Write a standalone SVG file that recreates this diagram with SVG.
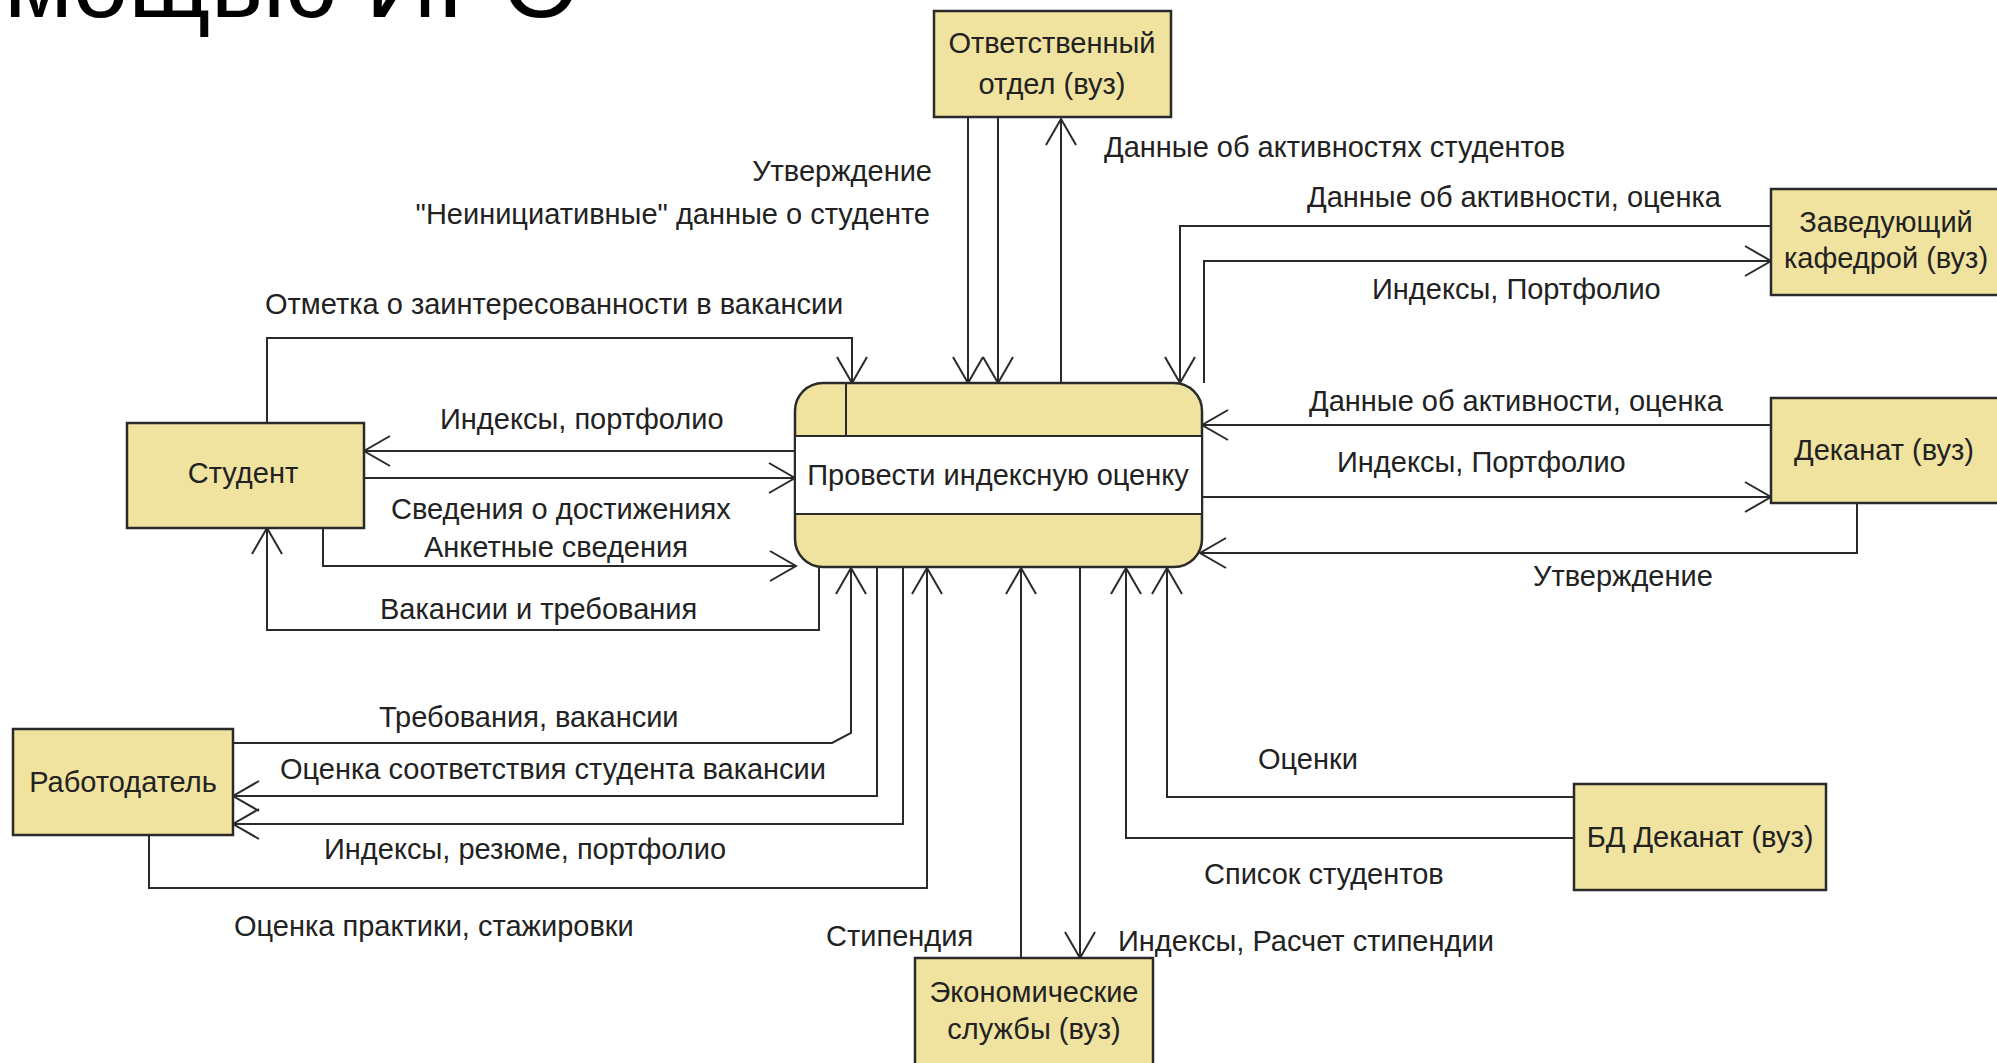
<svg xmlns="http://www.w3.org/2000/svg" width="1997" height="1063" viewBox="0 0 1997 1063">
<style>
.bg{fill:#ffffff}
.box{fill:#f0e3a0;stroke:#2a2a2a;stroke-width:2.5}
.band{fill:#ffffff;stroke:#2a2a2a;stroke-width:2}
.ln{fill:none;stroke:#2a2a2a;stroke-width:2}
.t{font-family:"Liberation Sans",Arial,sans-serif;font-size:29px;fill:#222}
.m{text-anchor:middle}
.e{text-anchor:end}
.title{font-family:"Liberation Sans",Arial,sans-serif;font-size:100px;fill:#000}
</style>
<defs>
<marker id="ar" markerUnits="userSpaceOnUse" markerWidth="30" markerHeight="34" viewBox="0 0 30 34" refX="27" refY="16" orient="auto">
<path d="M1,1 L27,16 L1,31" fill="none" stroke="#2a2a2a" stroke-width="2"/>
</marker>
</defs>
<rect class="bg" x="0" y="0" width="1997" height="1063"/>
<text class="title" x="4" y="17">мощью ИРО</text>

<g id="connectors">
<path class="ln" d="M968,117 V383" marker-end="url(#ar)"/>
<path class="ln" d="M998,117 V383" marker-end="url(#ar)"/>
<path class="ln" d="M1061,383 V119" marker-end="url(#ar)"/>
<path class="ln" d="M1771,226 H1180 V383" marker-end="url(#ar)"/>
<path class="ln" d="M1204,383 V261 H1771" marker-end="url(#ar)"/>
<path class="ln" d="M1771,425 H1202" marker-end="url(#ar)"/>
<path class="ln" d="M1202,497 H1771" marker-end="url(#ar)"/>
<path class="ln" d="M1857,503 V553 H1200" marker-end="url(#ar)"/>
<path class="ln" d="M267,423 V338 H852 V383" marker-end="url(#ar)"/>
<path class="ln" d="M795,451 H364" marker-end="url(#ar)"/>
<path class="ln" d="M364,478 H795" marker-end="url(#ar)"/>
<path class="ln" d="M323,528 V566 H796" marker-end="url(#ar)"/>
<path class="ln" d="M819,568 V630 H267 V528" marker-end="url(#ar)"/>
<path class="ln" d="M233,743 H832 L851,733 V568" marker-end="url(#ar)"/>
<path class="ln" d="M877,568 V796 H233" marker-end="url(#ar)"/>
<path class="ln" d="M903,568 V824 H233" marker-end="url(#ar)"/>
<path class="ln" d="M149,835 V888 H927 V568" marker-end="url(#ar)"/>
<path class="ln" d="M1021,958 V568" marker-end="url(#ar)"/>
<path class="ln" d="M1080,568 V958" marker-end="url(#ar)"/>
<path class="ln" d="M1574,838 H1126 V568" marker-end="url(#ar)"/>
<path class="ln" d="M1574,797 H1167 V568" marker-end="url(#ar)"/>
</g>

<g id="labels">
<text class="t e" x="932" y="181">Утверждение</text>
<text class="t e" x="930" y="224">"Неинициативные" данные о студенте</text>
<text class="t" x="1104" y="157">Данные об активностях студентов</text>
<text class="t" x="1307" y="207">Данные об активности, оценка</text>
<text class="t" x="1372" y="299">Индексы, Портфолио</text>
<text class="t" x="265" y="314">Отметка о заинтересованности в вакансии</text>
<text class="t" x="440" y="429">Индексы, портфолио</text>
<text class="t" x="1309" y="411">Данные об активности, оценка</text>
<text class="t" x="1337" y="472">Индексы, Портфолио</text>
<text class="t" x="391" y="519">Сведения о достижениях</text>
<text class="t" x="424" y="557">Анкетные сведения</text>
<text class="t" x="1533" y="586">Утверждение</text>
<text class="t" x="380" y="619">Вакансии и требования</text>
<text class="t" x="379" y="727">Требования, вакансии</text>
<text class="t" x="280" y="779">Оценка соответствия студента вакансии</text>
<text class="t" x="324" y="859">Индексы, резюме, портфолио</text>
<text class="t" x="1258" y="769">Оценки</text>
<text class="t" x="1204" y="884">Список студентов</text>
<text class="t" x="234" y="936">Оценка практики, стажировки</text>
<text class="t" x="826" y="946">Стипендия</text>
<text class="t" x="1118" y="951">Индексы, Расчет стипендии</text>
</g>

<g id="process">
<rect class="box" x="795" y="383" width="407" height="184" rx="28"/>
<rect class="band" x="795" y="436" width="407" height="78"/>
<line class="ln" x1="846" y1="383" x2="846" y2="436"/>
<text class="t m" x="998" y="485">Провести индексную оценку</text>
</g>

<g id="otvetstvenny">
<rect class="box" x="934" y="11" width="237" height="106"/>
<text class="t m" x="1052" y="53">Ответственный</text>
<text class="t m" x="1052" y="94">отдел (вуз)</text>
</g>

<g id="zaveduyushchy">
<rect class="box" x="1771" y="189" width="232" height="106"/>
<text class="t m" x="1886" y="232">Заведующий</text>
<text class="t m" x="1886" y="268">кафедрой (вуз)</text>
</g>

<g id="dekanat">
<rect class="box" x="1771" y="398" width="232" height="105"/>
<text class="t m" x="1884" y="460">Деканат (вуз)</text>
</g>

<g id="student">
<rect class="box" x="127" y="423" width="237" height="105"/>
<text class="t m" x="243" y="483">Студент</text>
</g>

<g id="rabotodatel">
<rect class="box" x="13" y="729" width="220" height="106"/>
<text class="t m" x="123" y="792">Работодатель</text>
</g>

<g id="bd-dekanat">
<rect class="box" x="1574" y="784" width="252" height="106"/>
<text class="t m" x="1700" y="847">БД Деканат (вуз)</text>
</g>

<g id="ekonom">
<rect class="box" x="915" y="958" width="238" height="115"/>
<text class="t m" x="1034" y="1002">Экономические</text>
<text class="t m" x="1034" y="1039">службы (вуз)</text>
</g>
</svg>
